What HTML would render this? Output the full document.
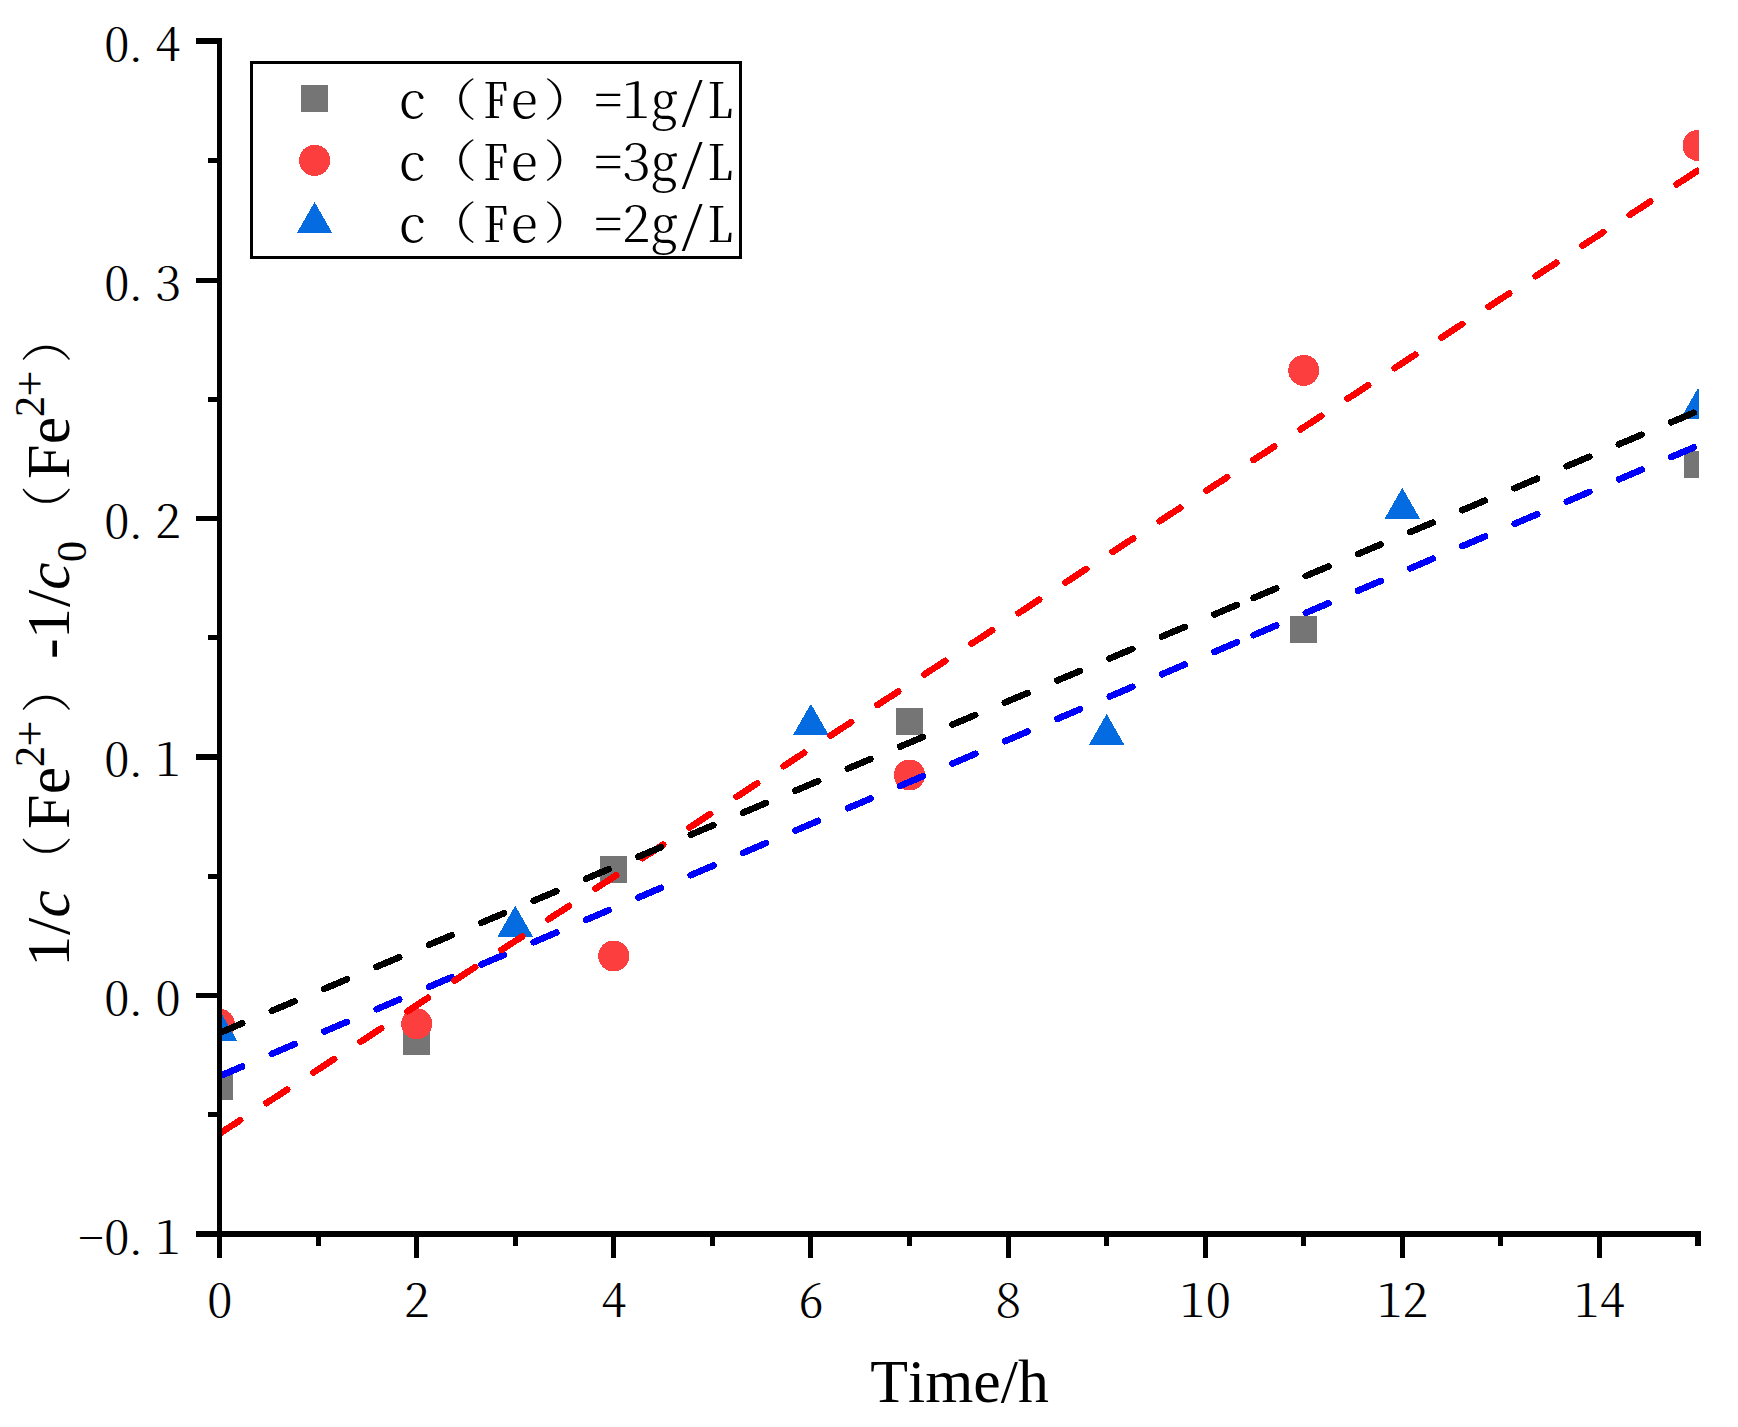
<!DOCTYPE html>
<html lang="zh"><head><meta charset="utf-8"><title>1/c(Fe2+)-1/c0(Fe2+) vs Time</title>
<style>
html,body{margin:0;padding:0;background:#fff;}
body{width:1738px;height:1427px;overflow:hidden;}
svg{display:block;}
.sim{font-family:'Noto Serif CJK SC','Liberation Serif',serif;font-weight:300;fill:#000;}
.hw{font-feature-settings:"hwid" 1;}
.tnr{font-family:'Liberation Serif','Noto Serif CJK SC',serif;fill:#000;font-kerning:none;}
</style></head><body>
<svg width="1738" height="1427" viewBox="0 0 1738 1427">
<rect width="1738" height="1427" fill="#fff"/>
<defs><clipPath id="plot"><rect x="219.50" y="30" width="1479.50" height="1206"/></clipPath></defs>
<g clip-path="url(#plot)" shape-rendering="crispEdges">
<rect x="206" y="1073" width="27" height="27" fill="#757575"/>
<rect x="403" y="1028" width="27" height="27" fill="#757575"/>
<rect x="600" y="856" width="27" height="27" fill="#757575"/>
<rect x="896" y="708" width="27" height="27" fill="#757575"/>
<rect x="1290" y="616" width="27" height="27" fill="#757575"/>
<rect x="1684" y="451" width="27" height="27" fill="#757575"/>
<circle cx="219.50" cy="1024.30" r="15.50" fill="#FD3E3E" shape-rendering="crispEdges"/>
<circle cx="416.64" cy="1023.80" r="15.50" fill="#FD3E3E" shape-rendering="crispEdges"/>
<circle cx="613.78" cy="956.00" r="15.50" fill="#FD3E3E" shape-rendering="crispEdges"/>
<circle cx="909.49" cy="775.00" r="15.50" fill="#FD3E3E" shape-rendering="crispEdges"/>
<circle cx="1303.77" cy="370.40" r="15.50" fill="#FD3E3E" shape-rendering="crispEdges"/>
<circle cx="1698.05" cy="145.45" r="15.50" fill="#FD3E3E" shape-rendering="crispEdges"/>
<polygon points="219.50,1009.90 201.80,1040.80 237.20,1040.80" fill="#046CE0" shape-rendering="crispEdges"/>
<polygon points="515.21,905.70 497.51,936.60 532.91,936.60" fill="#046CE0" shape-rendering="crispEdges"/>
<polygon points="810.92,703.80 793.22,734.70 828.62,734.70" fill="#046CE0" shape-rendering="crispEdges"/>
<polygon points="1106.63,713.90 1088.93,744.80 1124.33,744.80" fill="#046CE0" shape-rendering="crispEdges"/>
<polygon points="1402.34,487.80 1384.64,518.70 1420.04,518.70" fill="#046CE0" shape-rendering="crispEdges"/>
<polygon points="1698.05,387.90 1680.35,418.80 1715.75,418.80" fill="#046CE0" shape-rendering="crispEdges"/>
<line x1="219.50" y1="1076.20" x2="1253.60" y2="635.16" stroke="#0000FF" stroke-width="6.60" stroke-linecap="round" stroke-dasharray="24.60 32.33" fill="none"/>
<line x1="1253.60" y1="635.16" x2="1719.00" y2="436.67" stroke="#0000FF" stroke-width="6.60" stroke-linecap="round" stroke-dasharray="24.60 32.15" fill="none"/>
<line x1="219.50" y1="1133.70" x2="1253.60" y2="459.98" stroke="#FF0000" stroke-width="6.60" stroke-linecap="round" stroke-dasharray="24.60 31.50" fill="none"/>
<line x1="1253.60" y1="459.98" x2="1719.00" y2="156.77" stroke="#FF0000" stroke-width="6.60" stroke-linecap="round" stroke-dasharray="24.60 31.50" fill="none"/>
<line x1="219.50" y1="1032.90" x2="1253.60" y2="597.94" stroke="#000000" stroke-width="6.60" stroke-linecap="round" stroke-dasharray="24.60 32.20" fill="none"/>
<line x1="1253.60" y1="597.94" x2="1719.00" y2="402.19" stroke="#000000" stroke-width="6.60" stroke-linecap="round" stroke-dasharray="24.60 32.00" fill="none"/>
</g>
<g fill="#000" shape-rendering="crispEdges">
<rect x="217" y="38" width="5" height="1220"/>
<rect x="196" y="1231" width="1505" height="6"/>
<rect x="196" y="38" width="22" height="6"/>
<rect x="196" y="278" width="22" height="5"/>
<rect x="196" y="516" width="22" height="5"/>
<rect x="196" y="754" width="22" height="6"/>
<rect x="196" y="993" width="22" height="5"/>
<rect x="208" y="158" width="10" height="5"/>
<rect x="208" y="397" width="10" height="5"/>
<rect x="208" y="635" width="10" height="5"/>
<rect x="208" y="874" width="10" height="5"/>
<rect x="208" y="1112" width="10" height="5"/>
<rect x="316" y="1236" width="5" height="10"/>
<rect x="414" y="1236" width="5" height="22"/>
<rect x="513" y="1236" width="5" height="10"/>
<rect x="611" y="1236" width="5" height="22"/>
<rect x="710" y="1236" width="5" height="10"/>
<rect x="808" y="1236" width="5" height="22"/>
<rect x="907" y="1236" width="5" height="10"/>
<rect x="1006" y="1236" width="5" height="22"/>
<rect x="1104" y="1236" width="5" height="10"/>
<rect x="1203" y="1236" width="5" height="22"/>
<rect x="1301" y="1236" width="5" height="10"/>
<rect x="1400" y="1236" width="5" height="22"/>
<rect x="1498" y="1236" width="5" height="10"/>
<rect x="1597" y="1236" width="5" height="22"/>
<rect x="1695" y="1236" width="6" height="10"/>
</g>
<text class="sim hw" font-size="51.20" transform="translate(0,61.00) scale(1,0.870)" x="103.95 123.05 155.15" y="0">0.4</text>
<text class="sim hw" font-size="51.20" transform="translate(0,300.20) scale(1,0.870)" x="103.95 123.05 155.15" y="0">0.3</text>
<text class="sim hw" font-size="51.20" transform="translate(0,537.80) scale(1,0.870)" x="103.95 123.05 155.15" y="0">0.2</text>
<text class="sim hw" font-size="51.20" transform="translate(0,776.00) scale(1,0.870)" x="103.95 123.05 155.15" y="0">0.1</text>
<text class="sim hw" font-size="51.20" transform="translate(0,1015.00) scale(1,0.870)" x="103.95 123.05 155.15" y="0">0.0</text>
<text class="sim hw" font-size="51.20" transform="translate(0,1254.40) scale(1,0.870)" x="78.35 103.95 123.05 155.15" y="0">-0.1</text>
<text class="sim hw" font-size="51.20" transform="translate(0,1317.40) scale(1,0.870)" x="206.90" y="0">0</text>
<text class="sim hw" font-size="51.20" transform="translate(0,1317.40) scale(1,0.870)" x="404.04" y="0">2</text>
<text class="sim hw" font-size="51.20" transform="translate(0,1317.40) scale(1,0.870)" x="601.18" y="0">4</text>
<text class="sim hw" font-size="51.20" transform="translate(0,1317.40) scale(1,0.870)" x="798.32" y="0">6</text>
<text class="sim hw" font-size="51.20" transform="translate(0,1317.40) scale(1,0.870)" x="995.46" y="0">8</text>
<text class="sim hw" font-size="51.20" transform="translate(0,1317.40) scale(1,0.870)" x="1179.80 1205.40" y="0">10</text>
<text class="sim hw" font-size="51.20" transform="translate(0,1317.40) scale(1,0.870)" x="1376.94 1402.54" y="0">12</text>
<text class="sim hw" font-size="51.20" transform="translate(0,1317.40) scale(1,0.870)" x="1574.08 1599.68" y="0">14</text>
<rect x="251.5" y="62.8" width="489" height="194.4" fill="#fff" stroke="#000" stroke-width="3" shape-rendering="crispEdges"/>
<rect x="301" y="85" width="27" height="27" fill="#757575" shape-rendering="crispEdges"/>
<circle cx="314.60" cy="160.40" r="15.60" fill="#FD3E3E" shape-rendering="crispEdges"/>
<polygon points="314.60,202.10 296.90,233.00 332.30,233.00" fill="#046CE0" shape-rendering="crispEdges"/>
<text class="sim" font-size="56.00" transform="translate(0,118.30) scale(1,0.870)" y="0"><tspan class="hw" x="398.25">c</tspan><tspan font-size="51.5" x="425.40" dy="-3">（</tspan><tspan class="hw" x="482.25 510.25" dy="3">Fe</tspan><tspan font-size="51.5" x="543.60" dy="-3">）</tspan><tspan class="hw" x="594.25 622.25 650.25 678.25 706.25" dy="3">=1g/L</tspan></text>
<text class="sim" font-size="56.00" transform="translate(0,179.90) scale(1,0.870)" y="0"><tspan class="hw" x="398.25">c</tspan><tspan font-size="51.5" x="425.40" dy="-3">（</tspan><tspan class="hw" x="482.25 510.25" dy="3">Fe</tspan><tspan font-size="51.5" x="543.60" dy="-3">）</tspan><tspan class="hw" x="594.25 622.25 650.25 678.25 706.25" dy="3">=3g/L</tspan></text>
<text class="sim" font-size="56.00" transform="translate(0,241.60) scale(1,0.870)" y="0"><tspan class="hw" x="398.25">c</tspan><tspan font-size="51.5" x="425.40" dy="-3">（</tspan><tspan class="hw" x="482.25 510.25" dy="3">Fe</tspan><tspan font-size="51.5" x="543.60" dy="-3">）</tspan><tspan class="hw" x="594.25 622.25 650.25 678.25 706.25" dy="3">=2g/L</tspan></text>
<text class="tnr" font-size="61.8" x="870.3" y="1402.1">Time/h</text>
<g transform="translate(69.3,0) rotate(-90)">
<text class="tnr" font-size="62.0" y="0"><tspan x="-966.80" dy="0.00">1</tspan><tspan x="-935.00" dy="0.00">/</tspan><tspan x="-917.80" dy="0.00" font-style="italic">c</tspan><tspan class="sim" font-size="50.8" x="-886.05" dy="-3.00">（</tspan><tspan x="-829.10" dy="3.00">F</tspan><tspan x="-794.20" dy="0.00">e</tspan><tspan font-size="42.0" x="-767.00" dy="-25.00">2</tspan><tspan font-size="46.0" x="-746.50" dy="0.30">+</tspan><tspan class="sim" font-size="50.8" x="-713.25" dy="21.70">）</tspan><tspan x="-659.00" dy="3.00">-</tspan><tspan x="-639.00" dy="0.00">1</tspan><tspan x="-607.00" dy="0.00">/</tspan><tspan x="-590.00" dy="0.00" font-style="italic">c</tspan><tspan font-size="42.0" x="-562.00" dy="16.60">0</tspan><tspan class="sim" font-size="50.8" x="-536.05" dy="-19.60">（</tspan><tspan x="-479.10" dy="3.00">F</tspan><tspan x="-444.20" dy="0.00">e</tspan><tspan font-size="42.0" x="-417.00" dy="-25.00">2</tspan><tspan font-size="46.0" x="-396.50" dy="0.30">+</tspan><tspan class="sim" font-size="50.8" x="-363.25" dy="21.70">）</tspan></text>
</g>
</svg>
</body></html>
